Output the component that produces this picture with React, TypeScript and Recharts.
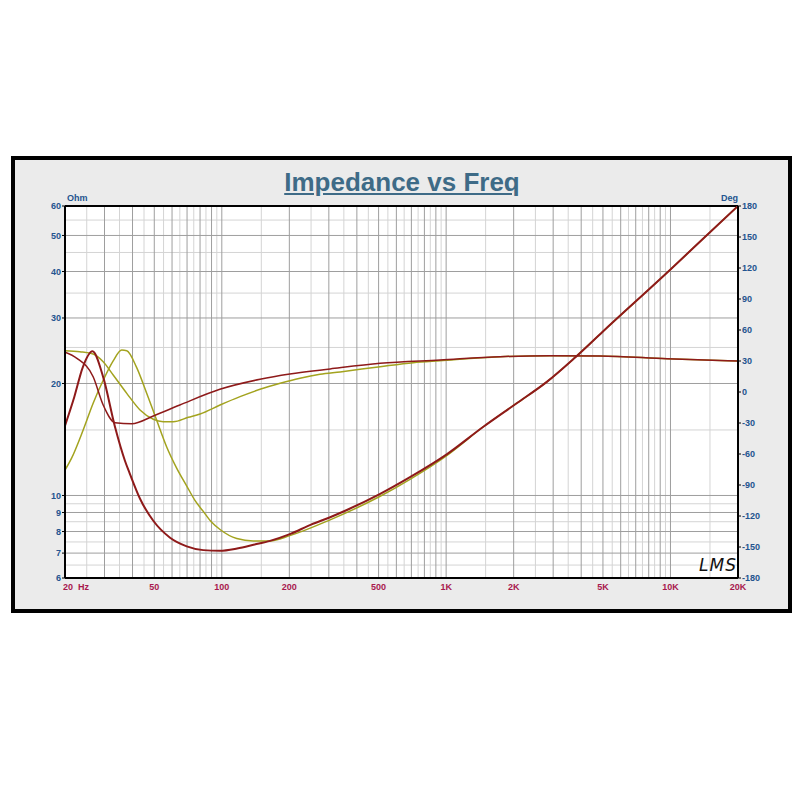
import React from "react";
import { CartesianGrid, Line, LineChart, ReferenceLine, XAxis, YAxis } from "recharts";

// Frequency ticks (Hz) and labels shown under the plot
const freqTicks = [20, 50, 100, 200, 500, 1000, 2000, 5000, 10000, 20000];
const freqLabels = ["20  Hz", "50", "100", "200", "500", "1K", "2K", "5K", "10K", "20K"];
const ohmTicks = [6, 7, 8, 9, 10, 20, 30, 40, 50, 60];
const degTicks = [-180, -150, -120, -90, -60, -30, 0, 30, 60, 90, 120, 150, 180];

// grid values
const freqMajor = [30, 40, 50, 60, 70, 80, 90, 100, 200, 300, 400, 500, 600, 700, 800, 900, 1000, 2000, 3000, 4000, 5000, 6000, 7000, 8000, 9000, 10000];
const freqMinor = [25, 35, 45, 55, 65, 75, 85, 95, 150, 250, 350, 450, 550, 650, 750, 850, 950, 1500, 2500, 3500, 4500, 5500, 6500, 7500, 8500, 9500, 15000];
const ohmMajor = [7, 8, 9, 10, 20, 30, 40, 50];
const ohmMinor = [6.5, 7.5, 8.5, 9.5, 15, 25, 35, 45, 55];

// red: impedance
const redZFreq = [20, 22, 24, 26.5, 29.6, 33.4, 37, 39, 43.2, 49.5, 58.8, 69.8, 82.7, 98, 117, 140, 164, 201, 250, 304, 361, 508, 690, 1006, 1465, 2064, 2810, 3700, 5000, 10000, 15000, 20000];
const redZ = [15.4, 18.4, 22.1, 24.4, 20.8, 15.3, 12.4, 11.4, 9.8, 8.55, 7.7, 7.3, 7.13, 7.1, 7.2, 7.38, 7.55, 7.87, 8.35, 8.74, 9.14, 10.1, 11.2, 12.9, 15.3, 17.7, 20.2, 23.3, 27.6, 40.5, 51.0, 60];
// red: phase
const redPFreq = [20, 22.6, 26.7, 29.6, 33.4, 39.7, 49.5, 65, 98, 148, 201, 304, 508, 939, 1740, 2900, 4850, 9660, 20000];
const redP = [38.5, 32.6, 14.8, -12.6, -29.7, -30.7, -23.2, -12.6, 2.6, 12.3, 17.4, 22.3, 27.8, 31, 34.2, 35.1, 34.8, 32.2, 30];
// olive: impedance
const oliveZFreq = [20, 21.4, 24.1, 26.7, 29.6, 32.8, 35.8, 37.7, 41.7, 46.3, 51.3, 56.8, 62.9, 69.8, 75.9, 82.7, 89.5, 98.2, 116.6, 138, 164, 201, 304, 508, 690, 1006, 1465, 2064, 2810, 3700, 5000, 10000, 15000, 20000];
const oliveZ = [11.7, 12.6, 15.0, 17.7, 20.4, 23.0, 24.6, 24.5, 22.1, 18.8, 15.9, 13.5, 11.85, 10.6, 9.7, 9.06, 8.51, 8.1, 7.66, 7.55, 7.55, 7.8, 8.6, 9.95, 11.05, 12.8, 15.3, 17.7, 20.2, 23.3, 27.6, 40.5, 51.0, 60];
// olive: phase
const olivePFreq = [20, 23.3, 26.7, 29.6, 32.8, 37.7, 43.2, 49.5, 54.8, 60.8, 70.9, 80, 98.2, 120.6, 148, 182, 223, 274, 337, 508, 714, 939, 1740, 2900, 4850, 9660, 20000];
const oliveP = [40, 39, 36.8, 29.3, 16.5, -1.3, -17.4, -26.4, -28.7, -28.7, -24.5, -21.3, -12.6, -4.5, 2.6, 8.4, 13.3, 17.1, 19.4, 24.5, 28.4, 30.3, 34.2, 35.1, 34.8, 32.2, 30];

const toRows = (fs: number[], vs: number[]) => fs.map((f, i) => ({ f, v: vs[i] }));

const RED = "#8e1a1a";
const OLIVE = "#a3a31f";
const BLUE = "#24548f";
const CRIMSON = "#a8184e";
const FONT = '"Liberation Sans", Arial, sans-serif';

const FreqTick = (props: any) => {
  const { x, y, payload } = props;
  const i = freqTicks.indexOf(payload.value);
  const first = payload.value === 20;
  return (
    <text x={first ? x - 2 : x} y={y} dy="0.71em" textAnchor={first ? "start" : "middle"}
      fill={CRIMSON} fontSize={9} fontWeight="bold" fontFamily={FONT} style={{ whiteSpace: "pre" }}>
      {freqLabels[i]}
    </text>
  );
};

export default function App() {
  const tickStyle = { fill: BLUE, fontSize: 9, fontWeight: "bold", fontFamily: FONT };
  return (
    <div style={{ position: "absolute", left: 0, top: 0, width: 802, height: 802, background: "#fff", fontFamily: FONT }}>
      <div style={{ position: "absolute", left: 11, top: 156, width: 781, height: 457, boxSizing: "border-box", border: "4px solid #000", background: "#ebebeb" }} />
      <div style={{ position: "absolute", left: 0, top: 167, width: 804, textAlign: "center", fontSize: 26, lineHeight: "30px", fontWeight: "bold", color: "#3e6b87" }}>
        <span style={{ textDecoration: "underline" }}>Impedance vs Freq</span>
      </div>
      <div style={{ position: "absolute", left: 67, top: 193, fontSize: 9, lineHeight: "10px", fontWeight: "bold", color: BLUE }}>Ohm</div>
      <div style={{ position: "absolute", left: 700, width: 38, top: 193, textAlign: "right", fontSize: 9, lineHeight: "10px", fontWeight: "bold", color: BLUE }}>Deg</div>
      <div style={{ position: "absolute", left: 0, top: 0 }}>
        <LineChart width={802} height={802} margin={{ top: 206, right: 24, bottom: 194, left: 25 }}>
          <CartesianGrid yAxisId="z" horizontal={false} vertical={false} fill="#ffffff" />
          <XAxis dataKey="f" type="number" scale="log" domain={[20, 20000]} ticks={freqTicks} interval={0}
            allowDataOverflow height={30} tickSize={0} tickMargin={6} tickLine={false}
            axisLine={{ stroke: "#000", strokeWidth: 2 }} tick={<FreqTick />} />
          <YAxis yAxisId="z" type="number" scale="log" domain={[6, 60]} ticks={ohmTicks} interval={0}
            allowDataOverflow width={40} tickSize={3} tickMargin={1}
            tickLine={{ stroke: "#000" }} axisLine={{ stroke: "#000", strokeWidth: 2 }} tick={tickStyle} />
          <YAxis yAxisId="p" orientation="right" type="number" domain={[-180, 180]} ticks={degTicks} interval={0}
            allowDataOverflow width={40} tickSize={3} tickMargin={1}
            tickLine={{ stroke: "#000" }} axisLine={{ stroke: "#000", strokeWidth: 2 }} tick={tickStyle} />
          {freqMinor.map((f) => (
            <ReferenceLine key={"vm" + f} x={f} yAxisId="z" stroke="#d4d4d4" strokeWidth={1} />
          ))}
          {ohmMinor.map((z) => (
            <ReferenceLine key={"hm" + z} y={z} yAxisId="z" stroke="#d4d4d4" strokeWidth={1} />
          ))}
          {freqMajor.map((f) => (
            <ReferenceLine key={"vM" + f} x={f} yAxisId="z" stroke="#9e9e9e" strokeWidth={1} />
          ))}
          {ohmMajor.map((z) => (
            <ReferenceLine key={"hM" + z} y={z} yAxisId="z" stroke="#9e9e9e" strokeWidth={1} />
          ))}
          <ReferenceLine y={60} yAxisId="z" stroke="#000" strokeWidth={2} />
          <Line data={toRows(olivePFreq, oliveP)} dataKey="v" yAxisId="p" type="monotone" stroke={OLIVE} strokeWidth={1.5} dot={false} isAnimationActive={false} />
          <Line data={toRows(oliveZFreq, oliveZ)} dataKey="v" yAxisId="z" type="monotone" stroke={OLIVE} strokeWidth={1.5} dot={false} isAnimationActive={false} />
          <Line data={toRows(redPFreq, redP)} dataKey="v" yAxisId="p" type="monotone" stroke={RED} strokeWidth={1.5} dot={false} isAnimationActive={false} />
          <Line data={toRows(redZFreq, redZ)} dataKey="v" yAxisId="z" type="monotone" stroke={RED} strokeWidth={2} dot={false} isAnimationActive={false} />
        </LineChart>
      </div>
      <div style={{ position: "absolute", left: 699, top: 556, fontSize: 17, lineHeight: "18px", fontStyle: "italic", fontFamily: '"DejaVu Sans", sans-serif', color: "#111", letterSpacing: 1 }}>LMS</div>
    </div>
  );
}
